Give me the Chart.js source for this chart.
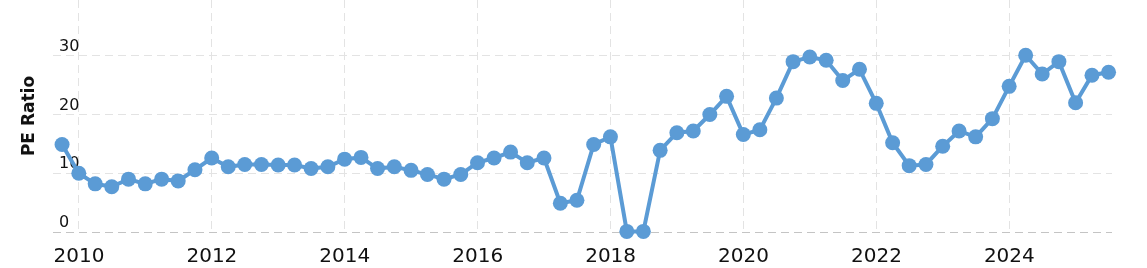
<!DOCTYPE html>
<html>
<head>
<meta charset="utf-8">
<script src="https://cdn.jsdelivr.net/npm/chart.js@4"></script>
<style>
html,body{margin:0;padding:0;background:#fff;overflow:hidden;}
#wrap{width:1147px;height:268px;position:relative;}
</style>
</head>
<body>
<div id="wrap"><canvas id="c"></canvas></div>
<script>
// Quarter-end dates
const dates = [
  "2009-09-30","2009-12-31",
  "2010-03-31","2010-06-30","2010-09-30","2010-12-31",
  "2011-03-31","2011-06-30","2011-09-30","2011-12-31",
  "2012-03-31","2012-06-30","2012-09-30","2012-12-31",
  "2013-03-31","2013-06-30","2013-09-30","2013-12-31",
  "2014-03-31","2014-06-30","2014-09-30","2014-12-31",
  "2015-03-31","2015-06-30","2015-09-30","2015-12-31",
  "2016-03-31","2016-06-30","2016-09-30","2016-12-31",
  "2017-03-31","2017-06-30","2017-09-30","2017-12-31",
  "2018-03-31","2018-06-30","2018-09-30","2018-12-31",
  "2019-03-31","2019-06-30","2019-09-30","2019-12-31",
  "2020-03-31","2020-06-30","2020-09-30","2020-12-31",
  "2021-03-31","2021-06-30","2021-09-30","2021-12-31",
  "2022-03-31","2022-06-30","2022-09-30","2022-12-31",
  "2023-03-31","2023-06-30","2023-09-30","2023-12-31",
  "2024-03-31","2024-06-30","2024-09-30","2024-12-31",
  "2025-03-31","2025-06-30"
];
// PE ratio values
const peRatio = [
  14.9,10.0,
  8.2,7.7,9.0,8.2,
  9.0,8.7,10.6,12.6,
  11.1,11.5,11.5,11.4,
  11.4,10.8,11.1,12.4,
  12.7,10.8,11.1,10.5,
  9.8,9.0,9.8,11.8,
  12.6,13.6,11.8,12.6,
  4.9,5.4,14.9,16.2,
  0.1,0.1,13.9,16.9,
  17.2,20.0,23.1,16.6,
  17.4,22.8,29.0,29.8,
  29.25,25.8,27.7,21.9,
  15.2,11.3,11.5,14.6,
  17.2,16.2,19.3,24.8,
  30.1,26.9,29.0,22.0,
  26.7,27.2
];
const xTickYears = [2010,2012,2014,2016,2018,2020,2022,2024];
const yTickValues = [0,10,20,30];
const yTitle = "PE Ratio";

function fracYear(s){
  const [y,m,d] = s.split('-').map(Number);
  const t = Date.UTC(y,m-1,d), a = Date.UTC(y,0,1), b = Date.UTC(y+1,0,1);
  return y + (t-a)/(b-a);
}
const points = dates.map((d,i)=>({x: fracYear(d), y: peRatio[i]}));
const blue = '#5b9bd5';

new Chart(document.getElementById('c'), {
  type: 'line',
  data: { datasets: [{
    data: points,
    borderColor: blue,
    backgroundColor: blue,
    pointBackgroundColor: blue,
    pointBorderColor: blue,
    borderWidth: 4,
    pointRadius: 7.5,
    pointBorderWidth: 0,
    tension: 0,
    clip: false
  }]},
  options: {
    responsive: true,
    maintainAspectRatio: false,
    animation: false,
    events: [],
    layout: { autoPadding: false, padding: { left: 0, right: 35, top: 0, bottom: 0 } },
    plugins: { legend: { display: false }, tooltip: { enabled: false } },
    scales: {
      x: {
        type: 'linear',
        min: 2009.609,
        max: 2025.545,
        afterBuildTicks: s => { s.ticks = xTickYears.map(v=>({value:v})); },
        afterFit: s => { s.height = 36; s.paddingLeft = 0; s.paddingRight = 0; },
        border: { display: false, dash: [8,5] },
        grid: { color: '#e3e3e3', lineWidth: 1, drawTicks: false },
        ticks: {
          padding: 13,
          maxRotation: 0,
          autoSkip: false,
          color: '#111',
          font: { family: 'DejaVu Sans', size: 20 },
          callback: v => String(v)
        }
      },
      y: {
        min: 0,
        max: 39.5,
        afterBuildTicks: s => { s.ticks = yTickValues.map(v=>({value:v})); },
        afterFit: s => { s.width = 53; s.paddingTop = 0; s.paddingBottom = 0; },
        border: { display: false, dash: [8,5] },
        grid: {
          color: c => (c.tick && c.tick.value === 0) ? '#c4c4c4' : '#e3e3e3',
          lineWidth: 1, drawTicks: false
        },
        title: {
          display: true, text: yTitle, color: '#111',
          font: { family: 'DejaVu Sans', size: 17, weight: 'bold' },
          padding: { top: 19, bottom: 0 }
        },
        ticks: {
          mirror: true,
          padding: 6,
          labelOffset: -9,
          color: '#111',
          font: { family: 'DejaVu Sans', size: 16 },
          callback: v => String(v)
        }
      }
    }
  }
});
</script>
</body>
</html>
